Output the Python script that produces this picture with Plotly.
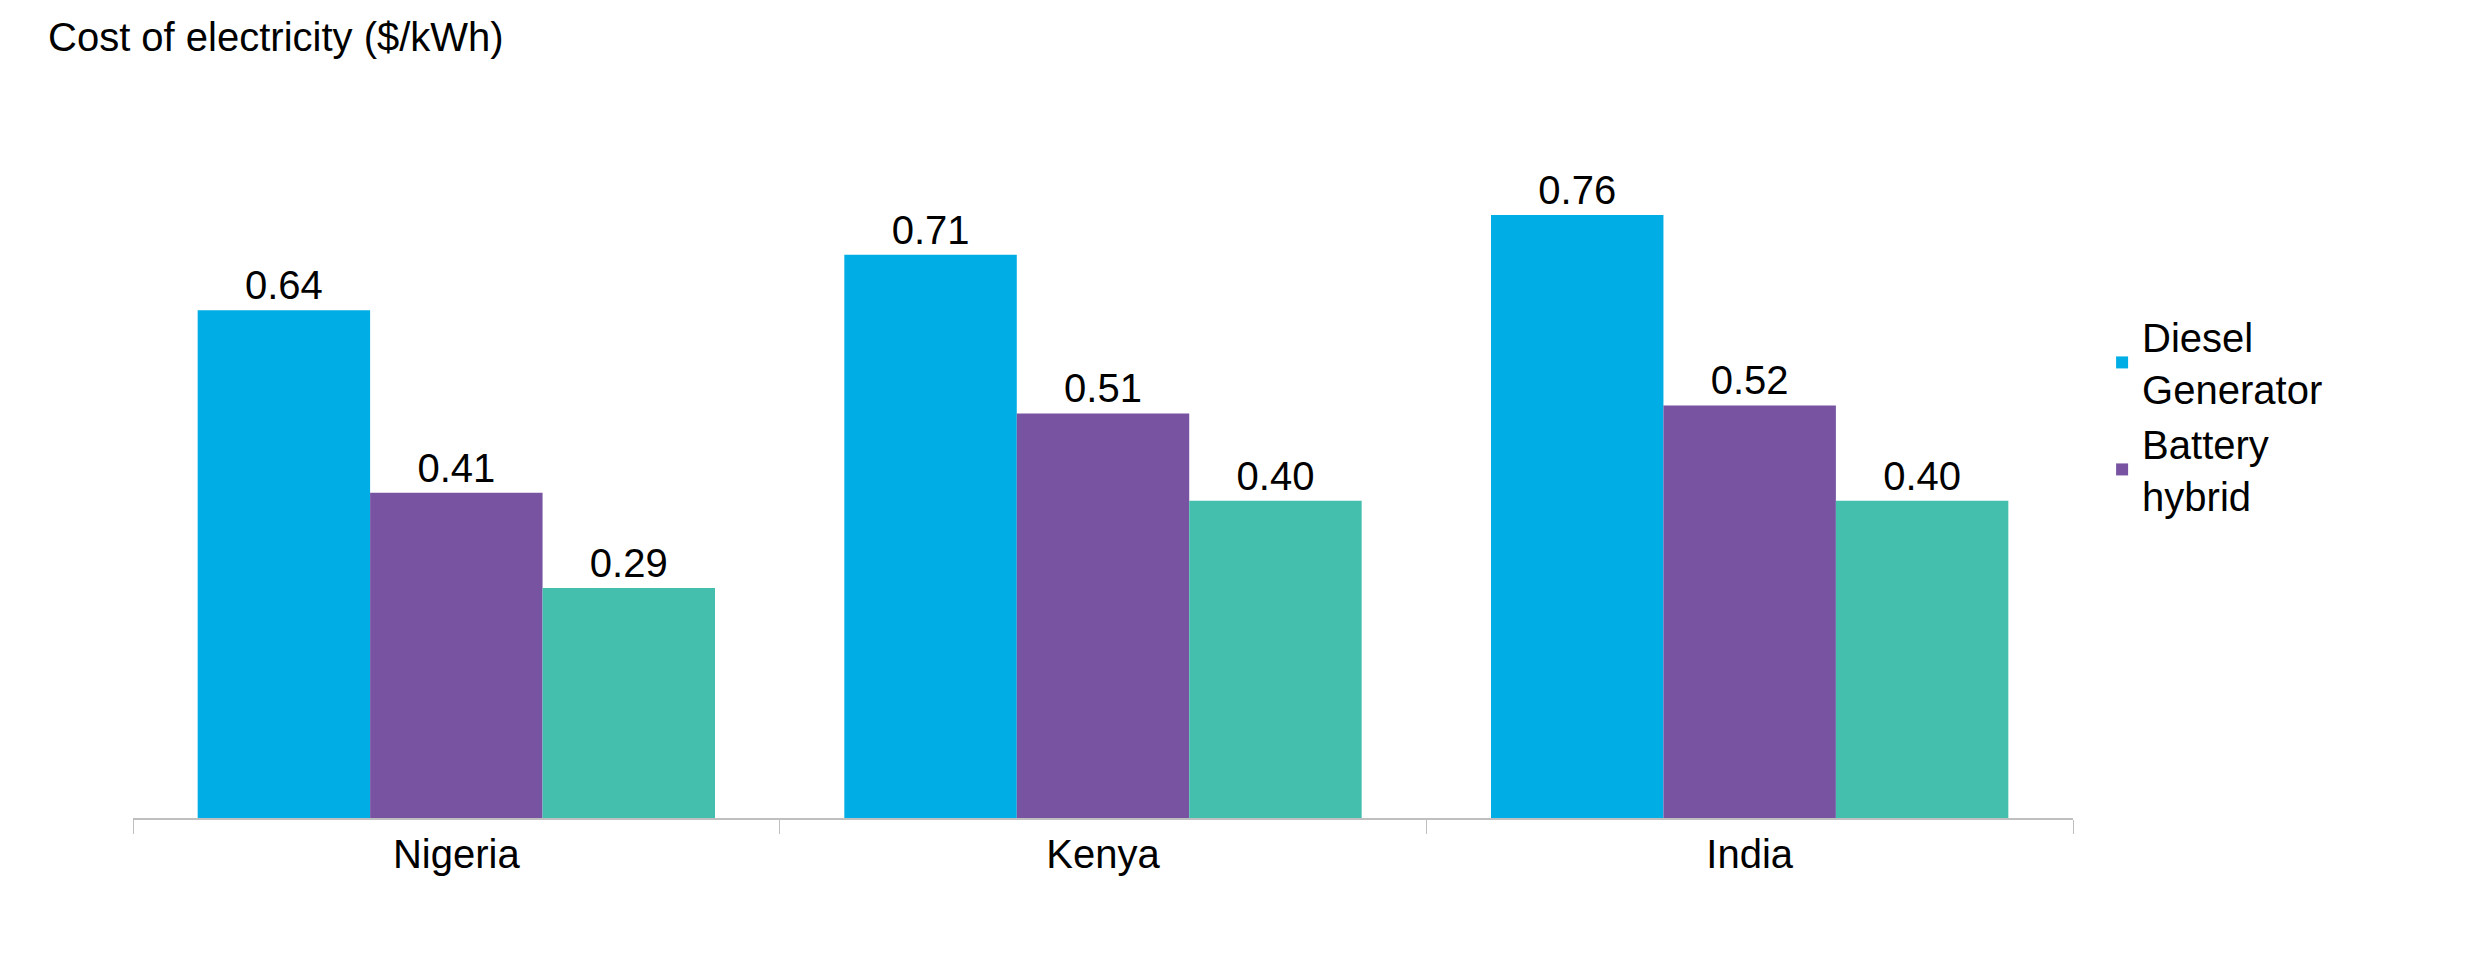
import plotly.graph_objects as go

countries = ["Nigeria", "Kenya", "India"]
diesel = [0.64, 0.71, 0.76]
battery = [0.41, 0.51, 0.52]
third = [0.29, 0.40, 0.40]

series = [
    ("Diesel<br>Generator", diesel, "#00ADE4", True),
    ("Battery<br>hybrid", battery, "#7753A2", True),
    ("", third, "#45BFAD", False),
]

fig = go.Figure()
for name, vals, color, show in series:
    fig.add_trace(go.Bar(
        x=countries, y=vals, name=name, marker_color=color, marker_line_width=0,
        text=[f"{v:.2f}" for v in vals], textposition="outside",
        textfont=dict(size=40, color="black"), cliponaxis=False, showlegend=show,
    ))

fig.update_layout(
    width=2476, height=958, barmode="group", bargap=0.2, bargroupgap=0,
    plot_bgcolor="white", paper_bgcolor="white",
    font=dict(family="Liberation Sans, Arial", size=40, color="black"),
    margin=dict(l=125, r=411, t=96, b=148),
    legend=dict(x=1.015, y=0.72, yanchor="top", font=dict(size=40),
                tracegroupgap=40, itemsizing="constant"),
    annotations=[dict(text="Cost of electricity ($/kWh)", xref="paper", yref="paper",
                      x=-0.045, y=1.06, xanchor="left", yanchor="bottom",
                      showarrow=False, font=dict(size=40))],
)
fig.update_xaxes(showline=True, linecolor="#BFBFBF", linewidth=2, ticks="outside",
                 tickson="boundaries", ticklen=14, tickcolor="#BFBFBF",
                 tickfont=dict(size=40))
fig.update_yaxes(range=[0, 0.9], visible=False)

fig.write_html("out.html")
